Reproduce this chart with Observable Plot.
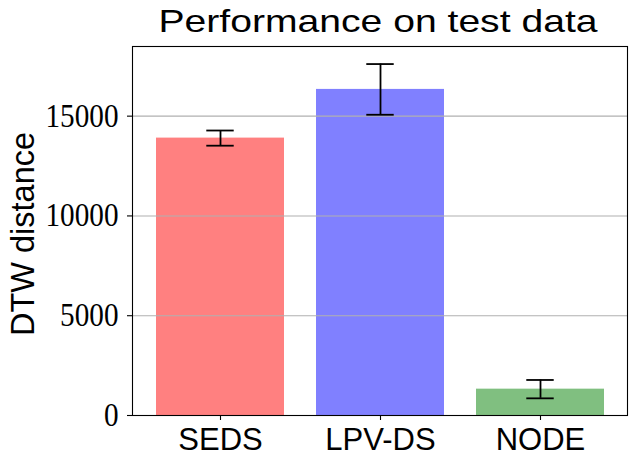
<!DOCTYPE html>
<html><head><meta charset="utf-8">
<script src="https://cdn.jsdelivr.net/npm/d3@7"></script>
<script src="https://cdn.jsdelivr.net/npm/@observablehq/plot@0.6"></script>
<style>body{margin:0;background:#fff}</style>
</head><body><div id="chart"></div>
<script>
const methods = ["SEDS", "LPV-DS", "NODE"];
const means = [13900, 16340, 1320];
const errors = [380, 1270, 460];
const barColors = ["#ff8080", "#8080ff", "#80bf80"];
const yTicks = [0, 5000, 10000, 15000];
const titleText = "Performance on test data";
const yLabel = "DTW distance";

const data = methods.map((m, i) => ({method: m, mean: means[i], lo: means[i] - errors[i], hi: means[i] + errors[i], color: barColors[i]}));

const W = 638, H = 466, mL = 132, mR = 11, mT = 46, mB = 51;
const step = (W - mL - mR) / 3.08, bw = 0.8 * step, capInset = (bw - 28) / 2;

const plot = Plot.plot({
  width: W, height: H, marginLeft: mL, marginRight: mR, marginTop: mT, marginBottom: mB,
  style: {fontFamily: "'Liberation Sans', Arial, sans-serif", background: "#fff", color: "#000"},
  x: {domain: methods, paddingInner: 0.2, paddingOuter: 0.14, label: null},
  y: {domain: [0, 18490], label: null},
  color: {type: "identity"},
  marks: [
    Plot.barY(data, {x: "method", y: "mean", fill: "color"}),
    Plot.gridY(yTicks, {stroke: "#b0b0b0", strokeOpacity: 1, strokeWidth: 1.1}),
    Plot.ruleX(data, {x: "method", y1: "lo", y2: "hi", stroke: "#000", strokeWidth: 1.8}),
    Plot.tickY(data, {x: "method", y: "lo", stroke: "#000", strokeWidth: 1.8, insetLeft: capInset, insetRight: capInset}),
    Plot.tickY(data, {x: "method", y: "hi", stroke: "#000", strokeWidth: 1.8, insetLeft: capInset, insetRight: capInset}),
    Plot.frame({stroke: "#000", strokeWidth: 1.1}),
    Plot.axisX({tickSize: 5, tickPadding: 7, fontSize: 31, label: null, strokeWidth: 1.1}),
    Plot.axisY({ticks: yTicks, tickFormat: d => String(d), tickSize: 5, tickPadding: 9, fontSize: 33, fontFamily: "'Liberation Serif', serif", label: null, strokeWidth: 1.1}),
    Plot.text([titleText], {text: d => d, frameAnchor: "top", dy: -36, dx: -2, lineAnchor: "top", fontSize: 30.5}),
    Plot.text([yLabel], {text: d => d, frameAnchor: "left", dx: -109.4, dy: 3, rotate: -90, lineAnchor: "middle", textAnchor: "middle", fontSize: 32.5})
  ]
});

const svg = d3.select(plot);
svg.selectAll('g[aria-label="y-axis tick label"] text').each(function() {
  const t = this.textContent;
  d3.select(this).attr("textLength", t.length * 14.6).attr("lengthAdjust", "spacingAndGlyphs");
});
svg.selectAll("text").filter(function() { return this.textContent === titleText; })
  .attr("textLength", 439).attr("lengthAdjust", "spacingAndGlyphs");

document.getElementById("chart").appendChild(plot);
</script>
</body></html>
